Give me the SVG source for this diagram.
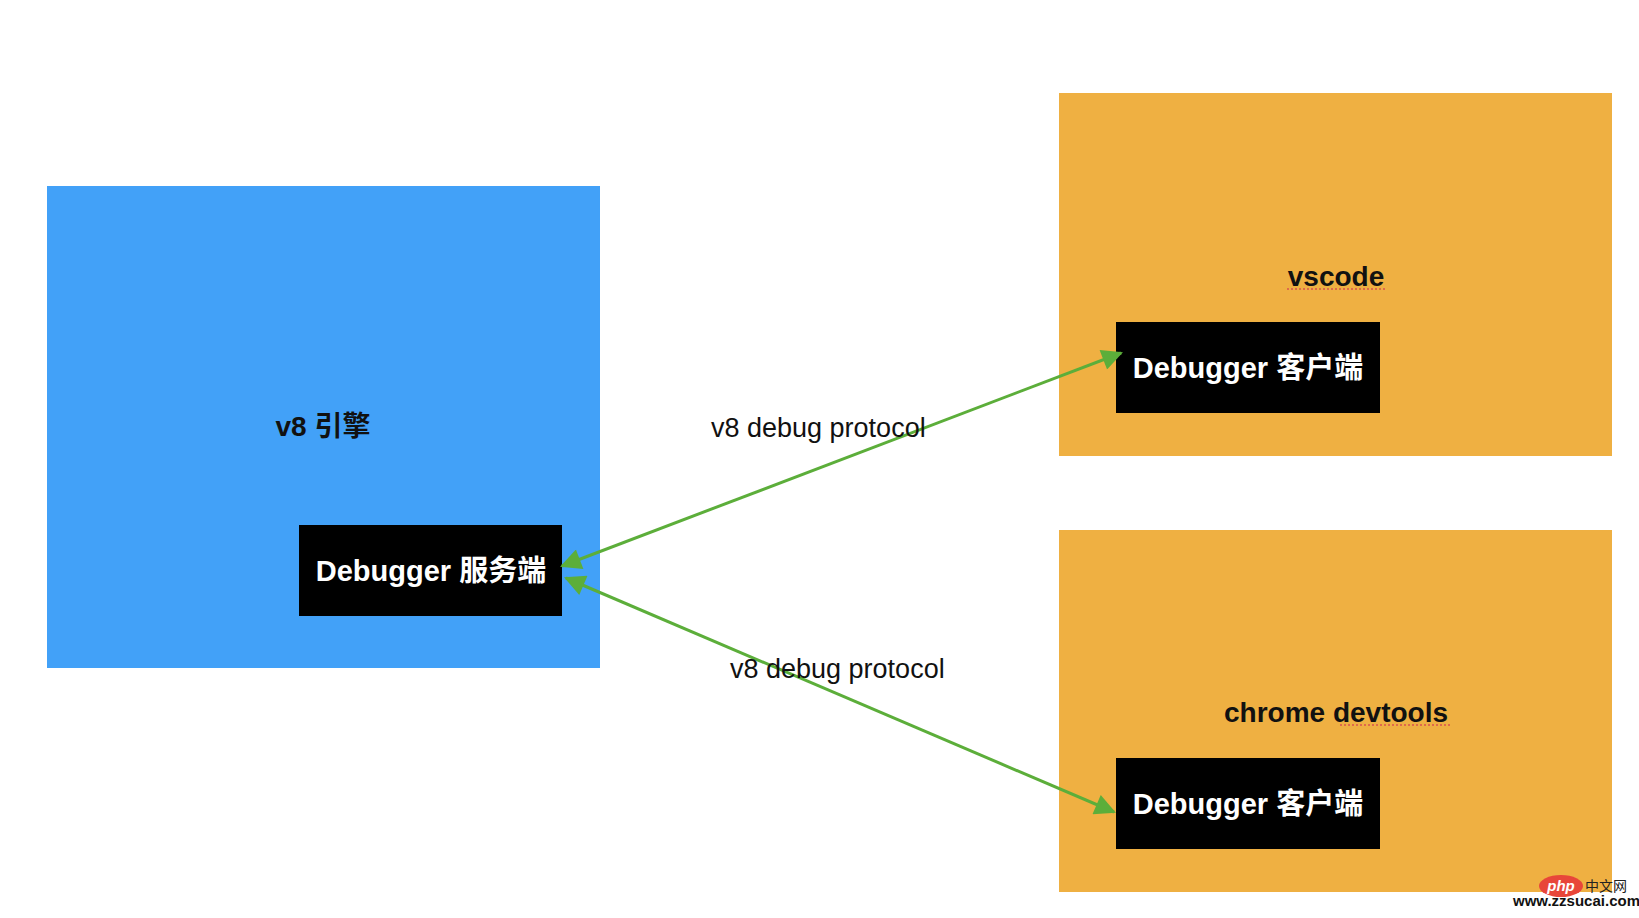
<svg xmlns="http://www.w3.org/2000/svg" width="1639" height="918" viewBox="0 0 1639 918">
  <style>
    .blue{fill:#42a1f8}
    .orange{fill:#efb042}
    .black{fill:#000}
    .title{font-family:"Liberation Sans","Noto Sans CJK SC",sans-serif;font-size:28px;font-weight:bold;fill:#111;text-anchor:middle}
    .inner{font-family:"Liberation Sans","Noto Sans CJK SC",sans-serif;font-size:29px;font-weight:bold;fill:#fff;text-anchor:middle}
    .proto{font-family:"Liberation Sans","Noto Sans CJK SC",sans-serif;font-size:27px;fill:#111}
    .conn{stroke:#5cae3a;stroke-width:3;fill:none}
    .squig{stroke:#d9534f;stroke-width:1.5;stroke-dasharray:2 2;fill:none}
    .wm{font-family:"Liberation Sans","Noto Sans CJK SC",sans-serif;font-weight:bold}
  </style>
  <defs>
    <marker id="ah" viewBox="0 0 10 10" refX="9" refY="5" markerWidth="8" markerHeight="7" markerUnits="strokeWidth" orient="auto-start-reverse">
      <path d="M0,0 L10,5 L0,10 z" fill="#5cae3a"/>
    </marker>
  </defs>
  <rect width="1639" height="918" fill="#fff"/>

  <g id="v8-engine">
    <rect class="blue" x="47" y="186" width="553" height="482"/>
    <text class="title" x="323" y="436">v8 引擎</text>
  </g>
  <g id="debugger-server">
    <rect class="black" x="299" y="525" width="263" height="91"/>
    <text class="inner" x="431" y="581">Debugger 服务端</text>
  </g>

  <g id="vscode">
    <rect class="orange" x="1059" y="93" width="553" height="363"/>
    <text class="title" x="1336" y="286">vscode</text>
    <path class="squig" d="M1287,289 H1385"/>
  </g>
  <g id="vscode-client">
    <rect class="black" x="1116" y="322" width="264" height="91"/>
    <text class="inner" x="1248" y="378">Debugger 客户端</text>
  </g>

  <g id="chrome-devtools">
    <rect class="orange" x="1059" y="530" width="553" height="362"/>
    <text class="title" x="1336" y="722">chrome devtools</text>
    <path class="squig" d="M1340,725 H1450"/>
  </g>
  <g id="devtools-client">
    <rect class="black" x="1116" y="758" width="264" height="91"/>
    <text class="inner" x="1248" y="814">Debugger 客户端</text>
  </g>

  <g id="connectors">
    <line class="conn" x1="562" y1="566" x2="1121" y2="353" marker-start="url(#ah)" marker-end="url(#ah)"/>
    <line class="conn" x1="566" y1="578" x2="1114" y2="812" marker-start="url(#ah)" marker-end="url(#ah)"/>
    <text class="proto" x="711" y="437">v8 debug protocol</text>
    <text class="proto" x="730" y="678">v8 debug protocol</text>
  </g>

  <g id="watermark">
    <ellipse cx="1561" cy="886" rx="22" ry="11" fill="#e8463a"/>
    <text class="wm" x="1561" y="891" font-size="15" fill="#fff" text-anchor="middle" font-style="italic">php</text>
    <text x="1585" y="891" font-size="14" fill="#222" font-family="Noto Sans CJK SC,sans-serif">中文网</text>
    <text class="wm" x="1513" y="906" font-size="15" fill="#111">www.zzsucai.com</text>
  </g>
</svg>
